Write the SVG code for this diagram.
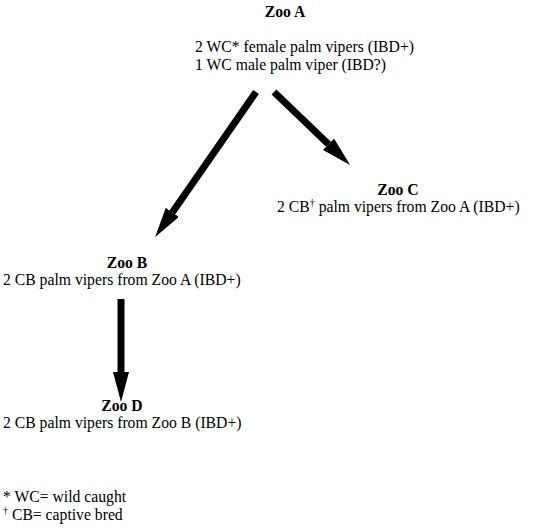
<svg xmlns="http://www.w3.org/2000/svg" width="550" height="529" viewBox="0 0 550 529" font-family="'Liberation Serif', 'Times New Roman', 'DejaVu Serif', serif" font-size="15.7">
<defs>
<style>
text{font-family:'Liberation Serif','Times New Roman','DejaVu Serif',serif;fill:#000}
.b{font-weight:bold}
.c{text-anchor:middle}
.sup{font-size:10px}
.conn{stroke:#000;stroke-width:7;fill:none}
</style>
<marker id="ah" viewBox="0 0 10 10" refX="0" refY="5" markerUnits="userSpaceOnUse" markerWidth="30" markerHeight="16" orient="auto" preserveAspectRatio="none">
<path d="M0,0 L10,5 L0,10 z" fill="#000"/>
</marker>
</defs>
<rect width="550" height="529" fill="#fff"/>
<g id="connectors">
<line class="conn" x1="256" y1="92" x2="172.3" y2="212.4" marker-end="url(#ah)"/>
<line class="conn" x1="274" y1="92" x2="328.5" y2="144.3" marker-end="url(#ah)"/>
<line class="conn" x1="121" y1="299" x2="121" y2="372" marker-end="url(#ah)"/>
</g>
<g id="zooA">
<text class="b c" x="285" y="17">Zoo A</text>
<text x="195" y="52">2 WC* female palm vipers (IBD+)</text>
<text x="195" y="70">1 WC male palm viper (IBD?)</text>
</g>
<g id="zooC">
<text class="b c" x="398" y="195">Zoo C</text>
<text x="277" y="212">2 CB<tspan class="sup" dy="-6">†</tspan><tspan dy="6"> palm vipers from Zoo A (IBD+)</tspan></text>
</g>
<g id="zooB">
<text class="b c" x="127" y="268">Zoo B</text>
<text x="3" y="285">2 CB palm vipers from Zoo A (IBD+)</text>
</g>
<g id="zooD">
<text class="b c" x="122" y="411">Zoo D</text>
<text x="3" y="428">2 CB palm vipers from Zoo B (IBD+)</text>
</g>
<g id="legend">
<text x="3" y="502">* WC= wild caught</text>
<text x="3" y="520"><tspan class="sup" dy="-6">†</tspan><tspan dy="6"> CB= captive bred</tspan></text>
</g>
</svg>
